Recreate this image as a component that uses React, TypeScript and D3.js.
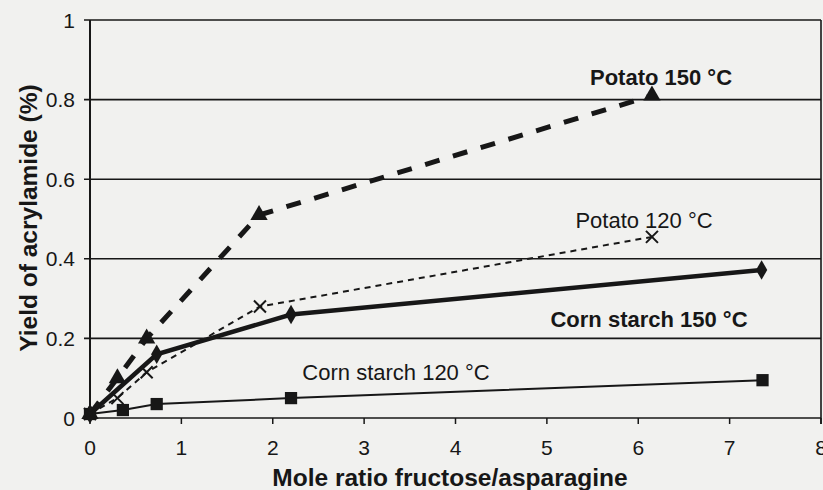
import React from 'react';
import { scaleLinear, line, symbol, symbolSquare, symbolTriangle, symbolDiamond } from 'd3';

// mole ratio fructose/asparagine vs yield of acrylamide (%)
const potato150X = [0, 0.3, 0.62, 1.85, 6.15];
const potato150Y = [0.01, 0.1, 0.2, 0.51, 0.81];
const potato120X = [0, 0.3, 0.62, 1.86, 6.15];
const potato120Y = [0.01, 0.05, 0.115, 0.28, 0.455];
const corn150X = [0, 0.73, 2.2, 7.35];
const corn150Y = [0.01, 0.16, 0.26, 0.372];
const corn120X = [0, 0.36, 0.73, 2.2, 7.36];
const corn120Y = [0.01, 0.02, 0.035, 0.05, 0.095];

const xTicks = [0, 1, 2, 3, 4, 5, 6, 7, 8];
const yTicks = [0, 0.2, 0.4, 0.6, 0.8, 1];
const yTickLabels = ['0', '0.2', '0.4', '0.6', '0.8', '1'];

const W = 823;
const H = 490;
const ink = '#171717';
const font = 'Arial, "Liberation Sans", sans-serif';

const App = () => {
    const x = scaleLinear().domain([0, 8]).range([90, 821]);
    const y = scaleLinear().domain([0, 1]).range([418, 20]);

    const path = (xs: number[], ys: number[]) =>
        line<number>()
            .x((d, i) => x(xs[i]))
            .y((d) => y(d))(ys) || '';

    const sq = symbol().type(symbolSquare).size(150)() || '';
    const tri = symbol().type(symbolTriangle).size(130)() || '';
    const dia = symbol().type(symbolDiamond).size(110)() || '';

    return (
        <svg width={W} height={H} style={{ position: 'absolute', left: 0, top: 0, background: '#f1f1ef' }}>
            {/* grid */}
            {yTicks.map((t) => (
                <line key={t} x1={84} x2={821} y1={y(t)} y2={y(t)} stroke={ink} strokeWidth={1.6} />
            ))}
            <line x1={90} x2={90} y1={y(1)} y2={y(0)} stroke={ink} strokeWidth={2} />
            <line x1={821} x2={821} y1={y(1)} y2={y(0) + 6} stroke={ink} strokeWidth={1.6} />
            {xTicks.map((t) => (
                <line key={t} x1={x(t)} x2={x(t)} y1={y(0)} y2={y(0) + 6} stroke={ink} strokeWidth={1.5} />
            ))}

            {/* tick labels */}
            {yTicks.map((t, i) => (
                <text key={t} x={75} y={y(t)} dy="0.36em" textAnchor="end" fontFamily={font} fontSize={21} fill={ink}>
                    {yTickLabels[i]}
                </text>
            ))}
            {xTicks.map((t) => (
                <text key={t} x={x(t)} y={447} dy="0.36em" textAnchor="middle" fontFamily={font} fontSize={21} fill={ink}>
                    {t}
                </text>
            ))}

            {/* axis titles */}
            <text x={450} y={477} dy="0.36em" textAnchor="middle" fontFamily={font} fontSize={24.5} fontWeight="bold" fill={ink}>
                Mole ratio fructose/asparagine
            </text>
            <text transform="translate(28,218) rotate(-90)" dy="0.36em" textAnchor="middle" fontFamily={font} fontSize={24.5} fontWeight="bold" fill={ink}>
                Yield of acrylamide (%)
            </text>

            {/* series lines */}
            <path d={path(corn120X, corn120Y)} fill="none" stroke={ink} strokeWidth={2} />
            <path d={path(potato120X, potato120Y)} fill="none" stroke={ink} strokeWidth={2} strokeDasharray="6 5" />
            <path d={path(corn150X, corn150Y)} fill="none" stroke={ink} strokeWidth={4.5} />
            <path d={path(potato150X, potato150Y)} fill="none" stroke={ink} strokeWidth={5} strokeDasharray="15 14" />

            {/* markers */}
            {corn120X.map((v, i) => (
                <path key={i} d={sq} transform={`translate(${x(v)},${y(corn120Y[i])})`} fill={ink} />
            ))}
            {corn150X.map((v, i) => (
                <path key={i} d={dia} transform={`translate(${x(v)},${y(corn150Y[i])})`} fill={ink} />
            ))}
            {potato150X.map((v, i) => (
                <path key={i} d={tri} transform={`translate(${x(v)},${y(potato150Y[i])})`} fill={ink} />
            ))}
            {potato120X.map((v, i) => (
                <path
                    key={i}
                    d="M-6,-6L6,6M-6,6L6,-6"
                    transform={`translate(${x(v)},${y(potato120Y[i])})`}
                    stroke={ink}
                    strokeWidth={2}
                />
            ))}

            {/* series labels */}
            <text x={661} y={77} dy="0.36em" textAnchor="middle" fontFamily={font} fontSize={22} fontWeight="bold" fill={ink}>
                Potato 150 °C
            </text>
            <text x={644} y={220} dy="0.36em" textAnchor="middle" fontFamily={font} fontSize={22} fill={ink}>
                Potato 120 °C
            </text>
            <text x={649} y={319} dy="0.36em" textAnchor="middle" fontFamily={font} fontSize={22} fontWeight="bold" fill={ink}>
                Corn starch 150 °C
            </text>
            <text x={396} y={372} dy="0.36em" textAnchor="middle" fontFamily={font} fontSize={22} fill={ink}>
                Corn starch 120 °C
            </text>
        </svg>
    );
};

export default App;
